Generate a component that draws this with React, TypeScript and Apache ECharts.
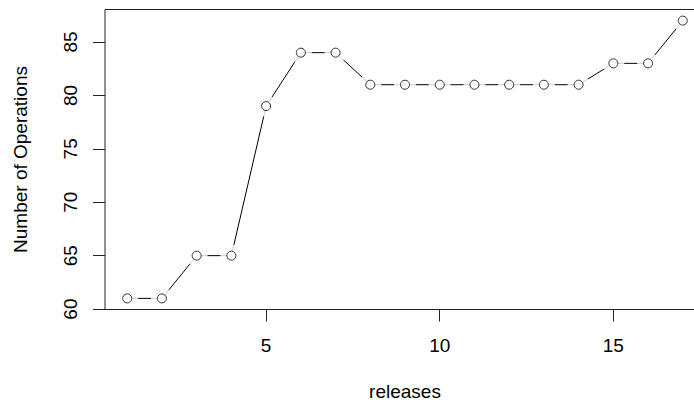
import React, { useEffect, useRef } from "react";
import * as echarts from "echarts";

const releases = [1, 2, 3, 4, 5, 6, 7, 8, 9, 10, 11, 12, 13, 14, 15, 16, 17];
const operations = [61, 61, 65, 65, 79, 84, 84, 81, 81, 81, 81, 81, 81, 81, 83, 83, 87];
const xTicks = [5, 10, 15];
const yTicks = [60, 65, 70, 75, 80, 85];
const xTitle = "releases";
const yTitle = "Number of Operations";

const FONT = "Liberation Sans, Arial, Helvetica, sans-serif";

export default function App() {
  const ref = useRef<HTMLDivElement>(null);
  useEffect(() => {
    if (!ref.current) return;
    const chart = echarts.init(ref.current, null, { renderer: "svg" });
    const pts = releases.map((r, i) => [r, operations[i]]);
    const xmin = 1 - 0.04 * 16;
    const xmax = 17 + 0.04 * 16;
    const ymin = 61 - 0.04 * 26;
    const ymax = 87 + 0.04 * 26;
    chart.setOption({
      animation: false,
      backgroundColor: "#ffffff",
      grid: {
        left: 105,
        top: 9.5,
        width: 600,
        height: 300,
        show: true,
        borderColor: "#222",
        borderWidth: 1,
        backgroundColor: "transparent",
        z: 10,
        outerBoundsMode: "none",
        containLabel: false,
      },
      xAxis: {
        type: "value",
        min: xmin,
        max: xmax,
        name: xTitle,
        nameLocation: "middle",
        nameGap: 72,
        nameTextStyle: { fontFamily: FONT, fontSize: 19, color: "#000" },
        axisLine: { show: false },
        splitLine: { show: false },
        axisTick: {
          show: true,
          length: 12,
          customValues: xTicks,
          lineStyle: { color: "#222", width: 1 },
        },
        axisLabel: {
          customValues: xTicks,
          margin: 26,
          fontFamily: FONT,
          fontSize: 19,
          color: "#000",
        },
      },
      yAxis: {
        type: "value",
        min: ymin,
        max: ymax,
        name: yTitle,
        nameLocation: "middle",
        nameGap: 75,
        nameTextStyle: { fontFamily: FONT, fontSize: 19, color: "#000" },
        axisLine: { show: false },
        splitLine: { show: false },
        axisTick: {
          show: true,
          length: 12,
          customValues: yTicks,
          lineStyle: { color: "#222", width: 1 },
        },
        axisLabel: {
          customValues: yTicks,
          rotate: 90,
          margin: 25,
          fontFamily: FONT,
          fontSize: 19,
          color: "#000",
        },
      },
      series: [
        {
          type: "line",
          data: pts,
          symbol: "none",
          lineStyle: { color: "#000", width: 1 },
          z: 2,
        },
        {
          type: "scatter",
          data: pts,
          symbol: "circle",
          symbolSize: 22,
          itemStyle: { color: "#ffffff" },
          z: 3,
        },
        {
          type: "scatter",
          data: pts,
          symbol: "circle",
          symbolSize: 9,
          itemStyle: { color: "#ffffff", borderColor: "#000", borderWidth: 1 },
          z: 4,
        },
      ],
    });
    return () => chart.dispose();
  }, []);
  return (
    <div
      ref={ref}
      style={{ position: "fixed", left: 0, top: 0, width: 694, height: 402 }}
    />
  );
}
